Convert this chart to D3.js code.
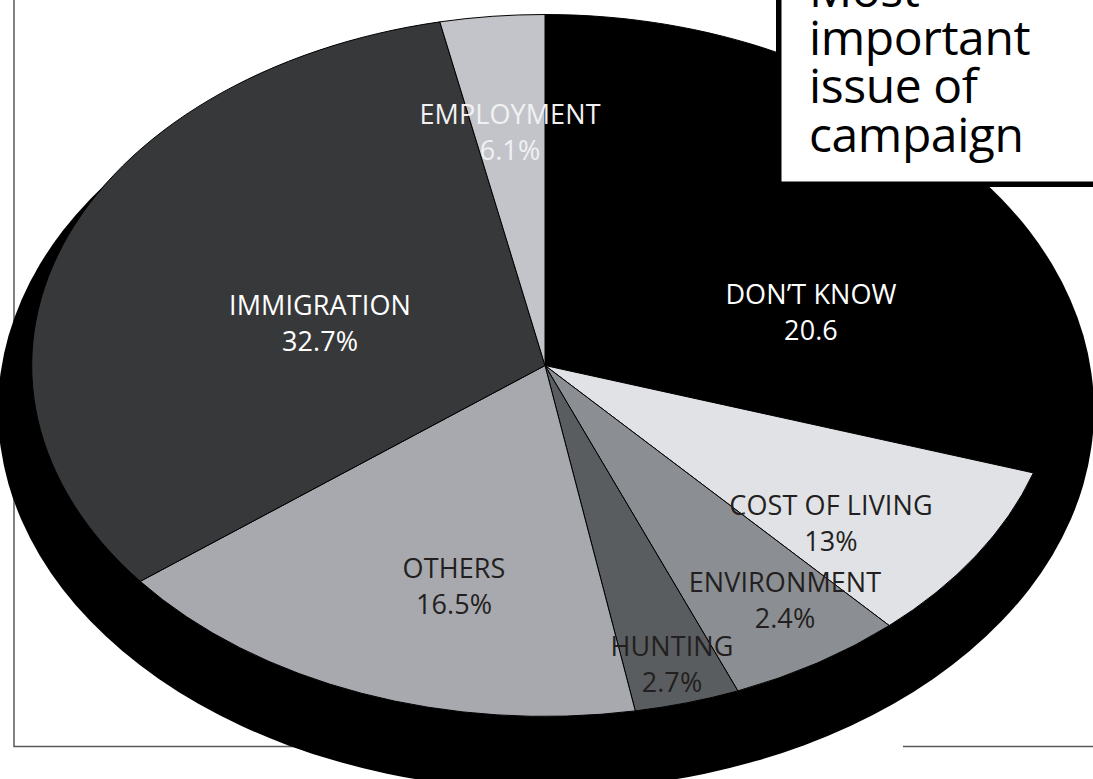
<!DOCTYPE html>
<html>
<head>
<meta charset="utf-8">
<script src="https://cdn.jsdelivr.net/npm/d3@7"></script>
<style>
  html, body { margin: 0; padding: 0; background: #fff; overflow: hidden; }
  text { font-family: "Open Sans", sans-serif; }
</style>
</head>
<body>
<script>
const issues = ["DON\u2019T KNOW", "COST OF LIVING", "ENVIRONMENT", "HUNTING", "OTHERS", "IMMIGRATION", "EMPLOYMENT"];
// printed figures, as they appear on the chart
const printed = ["20.6", "13%", "2.4%", "2.7%", "16.5%", "32.7%", "6.1%"];
// slice sizes as drawn (they don't follow the printed figures)
const drawnShare = [29.95, 8.34, 5.57, 3.33, 17.27, 32.26, 3.28];
const fills = ["#000000", "#e1e2e6", "#8b8e92", "#595d5f", "#a7a9ae", "#37383a", "#c3c4ca"];
const inks = ["#ffffff", "#231f20", "#231f20", "#231f20", "#231f20", "#ffffff", "#f1f1f3"];
const titleLines = ["Most", "important", "issue of", "campaign"];

// label anchors [x, first baseline]
const labelAt = [[811, 304], [831, 515], [785, 592], [672, 656], [454, 578], [320, 315], [510, 124]];

const width = 1093, height = 779;
const cx = 545, cy = 365.5, rx = 513, ry = 351;

const svg = d3.select("body").append("svg")
  .attr("width", width)
  .attr("height", height)
  .style("display", "block");

// frame behind the pie
svg.append("path")
  .attr("d", "M14,0V746.5H300M903,746.5H1093")
  .attr("fill", "none")
  .attr("stroke", "#58585a")
  .attr("stroke-width", 1.5);

// drop shadow
svg.append("ellipse")
  .attr("cx", 546).attr("cy", 410)
  .attr("rx", 548).attr("ry", 380)
  .attr("fill", "#000");

const color = d3.scaleOrdinal().domain(issues).range(fills);
const pie = d3.pie().sort(null).value((d, i) => drawnShare[i]);
const arc = d3.arc().innerRadius(0).outerRadius(1);

// unit pie squashed into an ellipse
const pieG = svg.append("g")
  .attr("transform", `translate(${cx},${cy}) scale(${rx},${ry})`);

pieG.selectAll("path")
  .data(pie(issues))
  .enter()
  .append("path")
  .attr("d", arc)
  .attr("fill", d => color(d.data))
  .attr("stroke", "#000")
  .attr("stroke-width", 1)
  .attr("vector-effect", "non-scaling-stroke");

// labels
const labels = svg.selectAll("g.label")
  .data(issues)
  .enter()
  .append("g")
  .attr("class", "label")
  .attr("text-anchor", "middle")
  .attr("font-size", 27)
  .attr("letter-spacing", 0.1)
  .attr("fill", (d, i) => inks[i]);

labels.append("text")
  .attr("x", (d, i) => labelAt[i][0])
  .attr("y", (d, i) => labelAt[i][1])
  .text(d => d);

labels.append("text")
  .attr("x", (d, i) => labelAt[i][0])
  .attr("y", (d, i) => labelAt[i][1] + 35.5)
  .text((d, i) => printed[i]);

// title box, runs off the top and right edge
svg.append("rect")
  .attr("x", 776).attr("y", 0)
  .attr("width", 317).attr("height", 187)
  .attr("fill", "#000");

svg.append("rect")
  .attr("x", 781.5).attr("y", 0)
  .attr("width", 312).attr("height", 181.5)
  .attr("fill", "#fff");

svg.selectAll("text.title")
  .data(titleLines)
  .enter()
  .append("text")
  .attr("class", "title")
  .attr("x", 809)
  .attr("y", (d, i) => 6.5 + i * 48.4)
  .attr("font-size", 48)
  .attr("letter-spacing", -0.4)
  .attr("fill", "#000")
  .text(d => d);
</script>
</body>
</html>
